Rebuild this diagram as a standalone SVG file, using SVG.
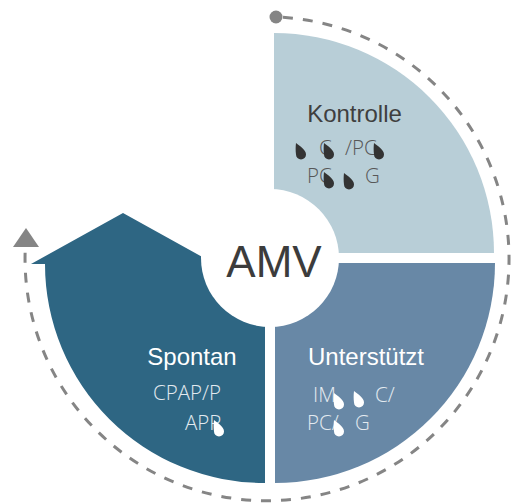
<svg xmlns="http://www.w3.org/2000/svg" xmlns:xlink="http://www.w3.org/1999/xlink" width="512" height="503" viewBox="0 0 512 503">
<style>
.title{font-family:"Liberation Sans",Arial,sans-serif;font-size:24px}
.sub{font-family:"Open Sans","Liberation Sans",sans-serif;font-size:20.5px;font-weight:300}
.dk{fill:#3f3f3f}
.sdk{fill:#575757}
.wt{fill:#ffffff}
.swt{fill:#e3eaf0}
.dash{fill:none;stroke:#858585;stroke-width:3;stroke-dasharray:10 10}
</style>
<defs>
<path id="drop" d="M-5,-10 C-1,-7 5,-3 5,1.5 A5,5 0 1 1 -5,1.5 C-5.5,-2 -5.5,-6 -5,-10 Z"/>
</defs>
<rect width="512" height="503" fill="#ffffff"/>
<g id="connectors">
<path class="dash" d="M283,17.3 A242,242 0 1 1 25.2,250"/>
<circle cx="276" cy="17" r="6.5" fill="#858585"/>
<polygon points="26,228 13,247 39,247" fill="#858585"/>
</g>
<g id="kontrolle">
<path d="M274,253 L274,33 A220,220 0 0 1 494,253 Z" fill="#b8ced7"/>
<text class="title dk" x="354.5" y="122" text-anchor="middle">Kontrolle</text>
<text class="sub sdk" x="319" y="155">C</text>
<text class="sub sdk" x="345" y="155">/PC</text>
<text class="sub sdk" x="307" y="183">PC</text>
<text class="sub sdk" x="365" y="183">G</text>
<use xlink:href="#drop" x="301" y="153" fill="#333"/>
<use xlink:href="#drop" x="329" y="153" fill="#333"/>
<use xlink:href="#drop" x="379" y="153" fill="#333"/>
<use xlink:href="#drop" x="329" y="182" fill="#333"/>
<use xlink:href="#drop" x="349" y="183" fill="#333"/>
</g>
<g id="unterstuetzt">
<path d="M275,263 L495,263 A220,220 0 0 1 275,483 Z" fill="#6888a6"/>
<text class="title wt" x="366" y="365" text-anchor="middle">Unterstützt</text>
<text class="sub swt" x="313" y="402">IM</text>
<text class="sub swt" x="375" y="402">C/</text>
<text class="sub swt" x="307" y="430">PC/</text>
<text class="sub swt" x="355" y="430">G</text>
<use xlink:href="#drop" x="339" y="403" fill="#fff"/>
<use xlink:href="#drop" x="359" y="401" fill="#fff"/>
<use xlink:href="#drop" x="339" y="430" fill="#fff"/>
</g>
<g id="spontan">
<path d="M265,264 L265,483 A219,219 0 0 1 45,264 L31,264 L123,213 L215,264 Z" fill="#2e6683"/>
<text class="title wt" x="192" y="365" text-anchor="middle">Spontan</text>
<text class="sub swt" x="153" y="400">CPAP/P</text>
<text class="sub swt" x="185" y="430">APR</text>
<use xlink:href="#drop" x="219" y="430" fill="#fff"/>
</g>
<g id="amv">
<circle cx="270" cy="258" r="69" fill="#ffffff"/>
<text x="274" y="277" text-anchor="middle" font-family="Liberation Sans, Arial, sans-serif" font-size="44" fill="#3c3c3c">AMV</text>
</g>
</svg>
